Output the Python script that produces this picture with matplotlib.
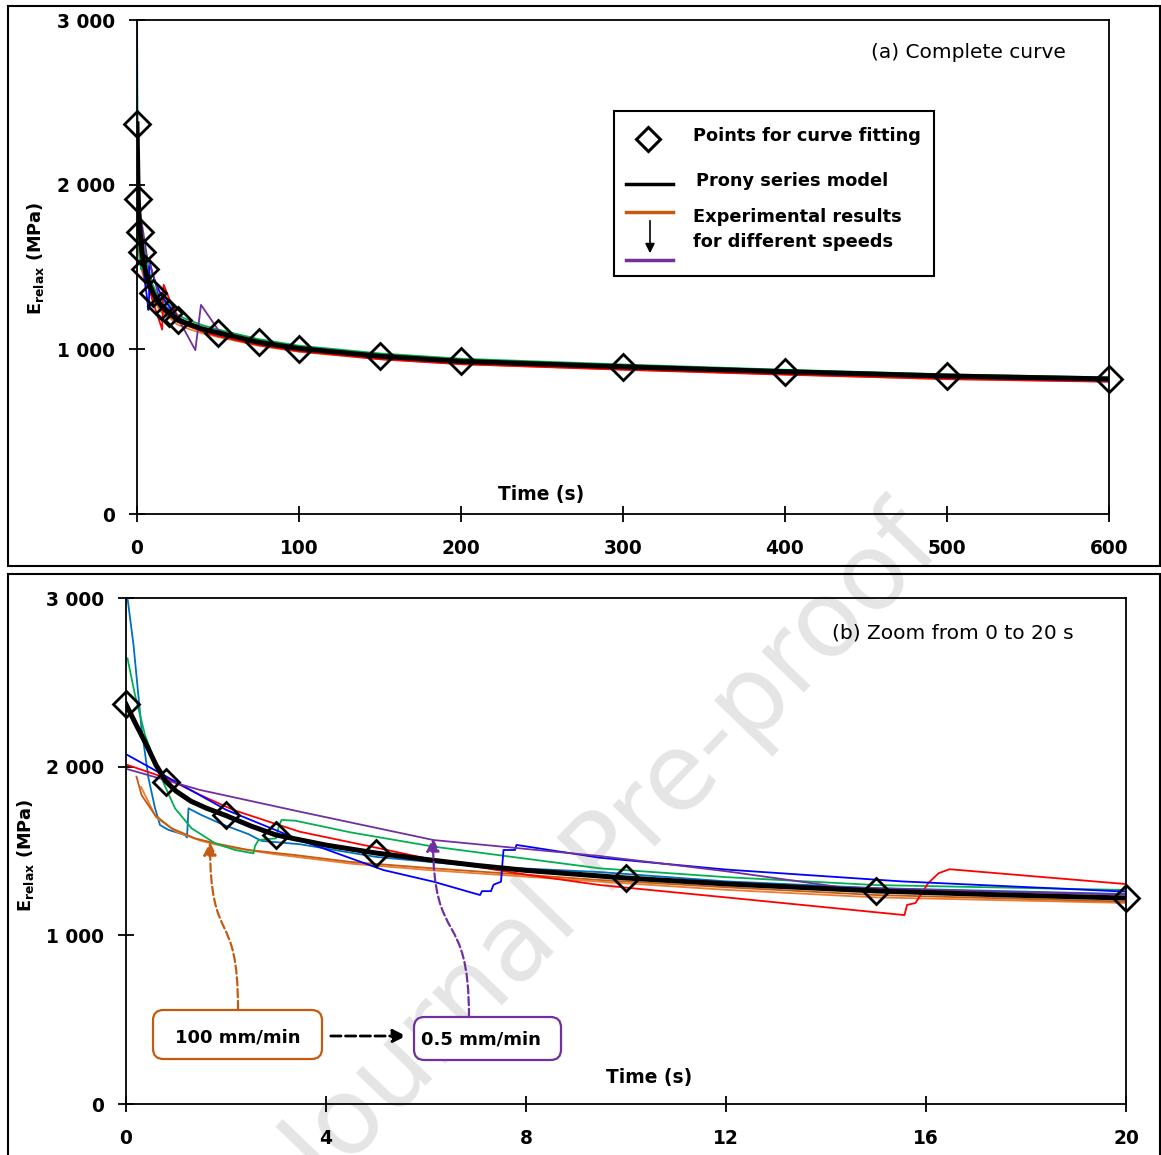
import numpy as np
import matplotlib
matplotlib.use("Agg")
import matplotlib.pyplot as plt
from matplotlib.lines import Line2D
from matplotlib.patches import Rectangle, FancyBboxPatch, FancyArrowPatch
from matplotlib.path import Path

plt.rcParams['font.family'] = ['DejaVu Sans']

# ---- data ----
# Prony series model
t_prony = [0, 0.2, 0.4, 0.6, 0.8, 1.0, 1.3, 1.6, 2.0, 2.5, 3.0, 4.0, 5.0, 6.0, 7.0, 8.0,
           10, 12, 15, 17.5, 20, 25, 30, 40, 50, 75, 100, 150, 200, 300, 400, 500, 600]
e_prony = [2370, 2250, 2135, 2010, 1912, 1855, 1795, 1755, 1710, 1648, 1595, 1535, 1488, 1450, 1415, 1385,
           1340, 1305, 1263, 1240, 1221, 1180, 1160, 1125, 1100, 1043, 1005, 958, 927, 894, 864, 838, 820]

# points used for curve fitting
t_fit = [0, 0.8, 2, 3, 5, 10, 15, 20, 25, 50, 75, 100, 150, 200, 300, 400, 500, 600]
e_fit = [2370, 1910, 1713, 1593, 1490, 1340, 1263, 1221, 1180, 1100, 1043, 1005, 958, 927, 894, 864, 838, 820]

# experimental results, different speeds
t_lblue = [0.03, 0.15, 0.31, 0.45, 0.58, 0.68, 0.85, 1.18, 1.22, 1.25, 1.51, 1.91, 2.45, 2.71, 3.48, 5, 7,
           9.48, 12, 15, 20, 25, 30, 40, 50, 75, 100, 150, 200, 300, 400, 500, 600]
e_lblue = [3000, 2722, 2229, 1931, 1755, 1654, 1625, 1595, 1580, 1753, 1713, 1660, 1600, 1560, 1540, 1465, 1410,
           1375, 1320, 1280, 1245, 1190, 1165, 1128, 1100, 1045, 1005, 958, 927, 893, 862, 836, 818]

t_green = [0.03, 0.18, 0.38, 0.65, 0.98, 1.31, 1.78, 2.18, 2.55, 2.58, 2.65, 3.0, 3.05, 3.11, 3.38, 4.5, 6.15,
           9.48, 12, 15, 20, 25, 30, 40, 50, 75, 100, 150, 200, 300, 400, 500, 600]
e_green = [2642, 2425, 2188, 1970, 1753, 1635, 1546, 1506, 1486, 1530, 1565, 1575, 1640, 1684, 1680, 1610, 1526,
           1397, 1345, 1298, 1269, 1210, 1185, 1148, 1120, 1062, 1022, 975, 943, 908, 876, 848, 830]

t_blue = [0.03, 0.81, 2.01, 3.48, 5.15, 6.15, 7.08, 7.12, 7.3, 7.35, 7.5, 7.55, 7.78, 7.81, 9.48, 12, 15.5,
          20, 25, 30, 40, 50, 75, 100, 150, 200, 300, 400, 500, 600]
e_blue = [2069, 1941, 1743, 1565, 1387, 1318, 1239, 1262, 1262, 1300, 1318, 1506, 1506, 1536, 1460, 1390, 1320,
          1259, 1195, 1170, 1130, 1100, 1045, 1007, 960, 929, 895, 865, 839, 822]

t_red = [0.03, 0.8, 1.5, 2.15, 3.0, 3.48, 5.0, 6.15, 8.0, 9.48, 12, 15.57, 15.62, 15.79, 16.04, 16.25, 16.47,
         20, 25, 30, 40, 50, 75, 100, 150, 200, 300, 400, 500, 600]
e_red = [2010, 1933, 1830, 1743, 1660, 1614, 1520, 1447, 1360, 1298, 1225, 1120, 1180, 1192, 1308, 1368, 1392,
         1304, 1200, 1150, 1108, 1080, 1025, 988, 940, 910, 876, 846, 820, 803]

t_purple = [0.03, 1.48, 3.48, 6.15, 9.48, 12, 14.3, 17, 20, 22, 28, 36, 39.5, 50, 55,
            75, 100, 150, 200, 300, 400, 500, 600]
e_purple = [1985, 1862, 1733, 1565, 1470, 1380, 1285, 1262, 1242, 1230, 1140, 995, 1270, 1120, 1090,
            1040, 1002, 955, 924, 890, 858, 828, 808]

t_brown = [0.21, 0.31, 0.58, 0.91, 1.38, 1.78, 2.45, 3.38, 4.5, 6.15, 9.48, 12, 15, 20,
           25, 30, 40, 50, 75, 100, 150, 200, 300, 400, 500, 600]
e_brown = [1941, 1832, 1713, 1635, 1575, 1546, 1506, 1476, 1435, 1397, 1328, 1285, 1239, 1200,
           1165, 1145, 1115, 1092, 1040, 1005, 960, 930, 898, 868, 842, 825]

t_orange = [0.3, 0.6, 1.0, 1.5, 2.0, 3.0, 4.5, 6.15, 9.48, 12, 15, 20,
            25, 30, 40, 50, 75, 100, 150, 200, 300, 400, 500, 600]
e_orange = [1880, 1700, 1615, 1560, 1525, 1480, 1425, 1385, 1318, 1270, 1225, 1192,
            1150, 1130, 1098, 1075, 1022, 985, 940, 910, 878, 848, 818, 805]

curves = [
    (t_lblue, e_lblue, '#0070C0'),
    (t_orange, e_orange, '#ED7D31'),
    (t_brown, e_brown, '#C55A11'),
    (t_green, e_green, '#00B050'),
    (t_red, e_red, '#FF0000'),
    (t_blue, e_blue, '#0000FF'),
    (t_purple, e_purple, '#7030A0'),
]

W, H = 1161, 1155


def px(x, y):
    return (x / W, 1 - y / H)


fig = plt.figure(figsize=(W / 100, H / 100), dpi=100)

ax_a = fig.add_axes([137 / W, 1 - 514 / H, (1109 - 137) / W, (514 - 20) / H])
ax_b = fig.add_axes([126 / W, 1 - 1104 / H, 1000 / W, (1104 - 598) / H])

tf = np.array(t_fit)
ef = np.array(e_fit)

for ax, xmax, xt in [(ax_a, 600, range(0, 601, 100)), (ax_b, 20, range(0, 21, 4))]:
    ax.set_facecolor('none')
    for t, e, c in curves:
        ax.plot(t, e, color=c, lw=1.3, zorder=2)
    ax.plot(t_prony, e_prony, color='black', lw=3.6, zorder=3)
    m = tf <= xmax
    ax.plot(tf[m], ef[m], ls='none', marker='D', ms=13, mfc='none', mec='black', mew=2.0,
            zorder=4, clip_on=False)
    ax.set_xlim(0, xmax)
    ax.set_ylim(0, 3000)
    ax.set_xticks(list(xt))
    ax.set_xticklabels([str(v) for v in xt], fontweight='bold', fontsize=13.4)
    ax.set_yticks([0, 1000, 2000, 3000])
    ax.set_yticklabels(['0', '1 000', '2 000', '3 000'], fontweight='bold', fontsize=13.4)
    ax.tick_params(axis='both', direction='inout', length=12, width=1.3)
    ax.tick_params(axis='y', pad=10)
    ax.tick_params(axis='x', pad=12)
    for s in ax.spines.values():
        s.set_linewidth(1.3)

# axis titles
ax_a.text(0.4156, 0.0385, 'Time (s)', transform=ax_a.transAxes, ha='center', va='center',
          fontsize=13.4, fontweight='bold')
ax_b.text(0.523, 0.053, 'Time (s)', transform=ax_b.transAxes, ha='center', va='center',
          fontsize=13.4, fontweight='bold')
ylab = r'$\mathbf{E}_{\mathbf{relax}}$ (MPa)'
fig.text(*px(35, 258), ylab, rotation=90, ha='center', va='center', fontsize=12.8, fontweight='bold')
fig.text(*px(25, 855), ylab, rotation=90, ha='center', va='center', fontsize=12.8, fontweight='bold')

fig.text(*px(968, 53), '(a) Complete curve', ha='center', va='center', fontsize=14.5)
fig.text(*px(953, 633), '(b) Zoom from 0 to 20 s', ha='center', va='center', fontsize=14.5)

# outer frames
fig.add_artist(Rectangle(px(8, 566), (1160 - 8) / W, (566 - 6) / H, transform=fig.transFigure,
                         fill=False, ec='black', lw=1.5, zorder=5))
fig.add_artist(Rectangle((8 / W, -0.02), (1160 - 8) / W, 1 - 574 / H + 0.02, transform=fig.transFigure,
                         fill=False, ec='black', lw=1.5, zorder=5))

# legend (panel a)
fig.add_artist(Rectangle(px(614, 276), (934 - 614) / W, (276 - 111) / H, transform=fig.transFigure,
                         fc='white', ec='black', lw=1.5, zorder=6))
fig.add_artist(Line2D([648 / W], [1 - 139 / H], transform=fig.transFigure, ls='none', marker='D',
                      ms=12, mfc='none', mec='black', mew=2.2, zorder=7))
fig.add_artist(Line2D([626 / W, 673 / W], [1 - 184 / H] * 2, transform=fig.transFigure,
                      color='black', lw=2.5, zorder=7))
fig.add_artist(Line2D([626 / W, 673 / W], [1 - 212 / H] * 2, transform=fig.transFigure,
                      color='#C55A11', lw=2.5, zorder=7))
fig.add_artist(Line2D([626 / W, 673 / W], [1 - 260 / H] * 2, transform=fig.transFigure,
                      color='#7030A0', lw=2.5, zorder=7))
fig.add_artist(FancyArrowPatch(px(650, 218), px(650, 256), transform=fig.transFigure,
                               arrowstyle='-|>', mutation_scale=14, lw=1.2, color='black', zorder=7))
for x, y, s in [(693, 136, 'Points for curve fitting'), (696, 181, 'Prony series model'),
                (693, 217, 'Experimental results'), (693, 242, 'for different speeds')]:
    fig.text(*px(x, y), s, ha='left', va='center', fontsize=12.8, fontweight='bold', zorder=8)

# speed annotations (panel b)
fig.add_artist(FancyBboxPatch(px(153, 1059), (322 - 153) / W, (1059 - 1010) / H,
                              boxstyle='round,pad=0,rounding_size=0.009', transform=fig.transFigure,
                              fc='white', ec='#C55A11', lw=1.6, zorder=6))
fig.text(*px(238, 1037), '100 mm/min', ha='center', va='center', fontsize=13, fontweight='bold', zorder=8)
fig.add_artist(FancyBboxPatch(px(414, 1060), (561 - 414) / W, (1060 - 1017) / H,
                              boxstyle='round,pad=0,rounding_size=0.009', transform=fig.transFigure,
                              fc='white', ec='#7030A0', lw=1.6, zorder=6))
fig.text(*px(421, 1040), '0.5 mm/min', ha='left', va='center', fontsize=13, fontweight='bold', zorder=8)
fig.add_artist(FancyArrowPatch(px(328, 1036), px(409, 1036), transform=fig.transFigure,
                               arrowstyle='-|>', mutation_scale=20, lw=2.0, ls='--', color='black', zorder=7))

codes = [Path.MOVETO, Path.CURVE4, Path.CURVE4, Path.CURVE4]
p_or = Path([px(238, 1009), px(238, 905), px(210, 950), px(210, 842)], codes)
p_pu = Path([px(469, 1017), px(469, 905), px(433, 950), px(433, 838)], codes)
fig.add_artist(FancyArrowPatch(path=p_or, transform=fig.transFigure, arrowstyle='-|>',
                               mutation_scale=20, lw=1.6, ls='--', color='#C55A11', zorder=7))
fig.add_artist(FancyArrowPatch(path=p_pu, transform=fig.transFigure, arrowstyle='-|>',
                               mutation_scale=20, lw=1.6, ls='--', color='#7030A0', zorder=7))

# watermark
fig.text(*px(615, 852), 'Journal Pre-proof', rotation=46, ha='center', va='center',
         fontsize=77, color='#e5e5e5', zorder=-1)

fig.savefig('out.png', dpi=100)
